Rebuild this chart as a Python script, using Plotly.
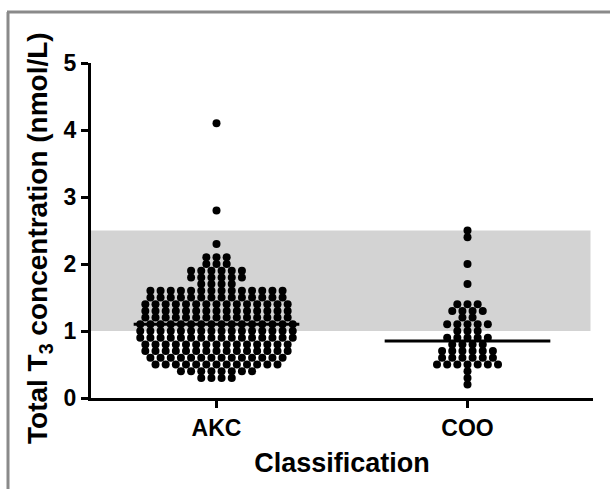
import numpy as np
import plotly.graph_objects as go

# ---- data ----
categories = ["AKC", "COO"]

akc_values = [0.3, 0.4, 0.5, 0.6, 0.7, 0.8, 0.9, 1.0, 1.1, 1.2, 1.3, 1.4, 1.5, 1.6,
              1.7, 1.8, 1.9, 2.0, 2.1, 2.3, 2.8, 4.1]
akc_counts = [4, 8, 13, 14, 15, 15, 16, 16, 16, 15, 15, 15, 14, 14,
              4, 6, 6, 3, 3, 1, 1, 1]

coo_values = [0.2, 0.3, 0.4, 0.5, 0.6, 0.7, 0.8, 0.9, 1.0, 1.1, 1.2, 1.3, 1.4,
              1.7, 2.0, 2.4, 2.5]
coo_counts = [1, 1, 1, 7, 6, 6, 4, 5, 3, 5, 2, 4, 3, 1, 1, 1, 1]

ref_low, ref_high = 1.0, 2.5
y_ticks = [0, 1, 2, 3, 4, 5]

FONT = "Liberation Sans, Arial, Helvetica, sans-serif"
DX = 0.0405  # horizontal dot spacing in category units


def swarm(center, values, counts):
    xs, ys = [], []
    for v, n in zip(values, counts):
        for i in range(n):
            xs.append(center + (i - (n - 1) / 2) * DX)
            ys.append(v)
    return xs, ys


fig = go.Figure()

groups = [(akc_values, akc_counts), (coo_values, coo_counts)]
for ci, (vals, cnts) in enumerate(groups):
    xs, ys = swarm(ci, vals, cnts)
    fig.add_trace(go.Scatter(x=xs, y=ys, mode="markers",
                             marker=dict(size=8, color="black", line=dict(width=0)),
                             showlegend=False, hoverinfo="skip"))
    med = float(np.median(np.repeat(vals, cnts)))
    fig.add_trace(go.Scatter(x=[ci - 0.33, ci + 0.33], y=[med, med], mode="lines",
                             line=dict(color="black", width=3),
                             showlegend=False, hoverinfo="skip"))

# reference range band
fig.add_shape(type="rect", xref="x", yref="y", x0=-0.5, x1=1.49,
              y0=ref_low, y1=ref_high, fillcolor="#d3d3d3",
              line=dict(width=0), layer="below")

# outer frame (top and left gray lines)
L, T, W, H = 91, 63, 502, 335
def px(xp):
    return (xp - L) / W
def py(yp):
    return (T + H - yp) / H

fig.add_shape(type="line", xref="paper", yref="paper",
              x0=px(7), x1=px(612), y0=py(12), y1=py(12),
              line=dict(color="#8a8a8a", width=3))
fig.add_shape(type="line", xref="paper", yref="paper",
              x0=px(8), x1=px(8), y0=py(12), y1=py(492),
              line=dict(color="#8a8a8a", width=3))

fig.add_annotation(xref="paper", yref="paper", x=px(40), y=py(238),
                   text="Total T<sub>3</sub> concentration (nmol/L)",
                   textangle=-90, showarrow=False,
                   font=dict(family=FONT, size=28, color="black", weight="bold"),
                   xanchor="center", yanchor="middle")

fig.update_layout(
    width=610, height=489,
    margin=dict(l=L, r=610 - L - W, t=T, b=489 - T - H),
    paper_bgcolor="white", plot_bgcolor="white",
    font=dict(family=FONT, color="black", weight="bold"),
    xaxis=dict(range=[-0.5, 1.5], tickvals=[0, 1], ticktext=categories,
               showline=True, linecolor="black", linewidth=3,
               ticks="outside", ticklen=7, tickwidth=3, tickcolor="black",
               showgrid=False, zeroline=False,
               tickfont=dict(family=FONT, size=23, color="black", weight="bold"),
               title=dict(text="Classification", standoff=14,
                          font=dict(family=FONT, size=27, color="black", weight="bold"))),
    yaxis=dict(range=[0, 5], tickvals=y_ticks,
               showline=True, linecolor="black", linewidth=3,
               ticks="outside", ticklen=7, tickwidth=3, tickcolor="black",
               showgrid=False, zeroline=False,
               tickfont=dict(family=FONT, size=23, color="black", weight="bold")),
)

fig.write_html("out.html", config={"displayModeBar": False},
               post_script="document.body.style.margin='0';document.body.style.overflow='hidden';")
